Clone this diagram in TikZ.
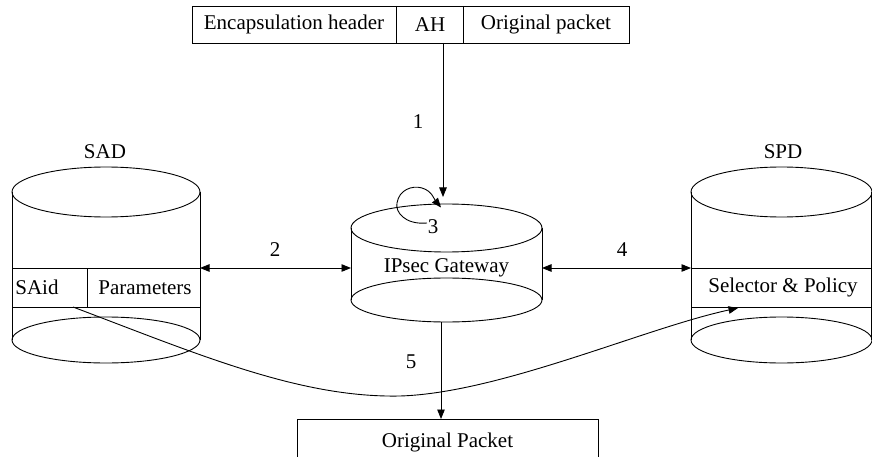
\documentclass[tikz,border=0pt]{standalone}
\usepackage{fontspec}
\setmainfont{Liberation Serif}
\usetikzlibrary{arrows.meta}
\begin{document}
\begin{tikzpicture}[x=1pt,y=-1pt,
  every node/.style={font=\fontsize{21}{24}\selectfont, inner sep=0pt},
  ln/.style={line width=0.9pt},
  tip/.style={-{Triangle[length=9.5pt,width=7.5pt]}},
  dtip/.style={{Triangle[length=9.5pt,width=7.5pt]}-{Triangle[length=9.5pt,width=7.5pt]}}]
\useasboundingbox (0,0) rectangle (872,457);
% ---- top packet box
\draw[ln] (192,6) rectangle (629,43);
\draw[ln] (396,6) -- (396,43);
\draw[ln] (463,6) -- (463,43);
\node (enc) at (294,24.5) {Encapsulation header};
\node (ah) at (430,24.5) {AH};
\node (orig) at (546,24.5) {Original packet};
\coordinate (topout) at (443,43);
% ---- SAD cylinder
\draw[ln] (106,192) ellipse [x radius=94, y radius=25];
\draw[ln] (106,340) ellipse [x radius=94, y radius=23];
\draw[ln] (12,192) -- (12,340);
\draw[ln] (200,192) -- (200,340);
\draw[ln] (12,268) -- (200,268);
\draw[ln] (12,307) -- (200,307);
\draw[ln] (87,268) -- (87,307);
\node (sad) at (105,152) {SAD};
\node (said) at (37,287.5) {SAid};
\node (param) at (145,287.5) {Parameters};
\coordinate (sadR) at (200,268);
\coordinate (saidB) at (73,307);
% ---- Gateway cylinder
\draw[ln] (446.5,228) ellipse [x radius=95.5, y radius=24];
\draw[ln] (446.5,300) ellipse [x radius=95.5, y radius=22];
\draw[ln] (351,228) -- (351,300);
\draw[ln] (542,228) -- (542,300);
\node (gw) at (446.5,268) {IPsec Gateway};
\coordinate (gwL) at (351,268);
\coordinate (gwR) at (542,268);
\coordinate (gwT) at (443,197);
\coordinate (gwB) at (441,322);
% ---- SPD cylinder
\draw[ln] (781.5,192) ellipse [x radius=90.5, y radius=25];
\draw[ln] (781.5,340) ellipse [x radius=90.5, y radius=23];
\draw[ln] (691,192) -- (691,340);
\draw[ln] (871.6,192) -- (871.6,340);
\draw[ln] (691,268) -- (872,268);
\draw[ln] (691,307) -- (872,307);
\node (spd) at (783,152) {SPD};
\node (sel) at (783,287.5) {Selector \& Policy};
\coordinate (spdL) at (691,268);
\coordinate (selB) at (738,308);
% ---- bottom box
\draw[ln] (297,460) -- (297,419) -- (598,419) -- (598,460);
\node (opk) at (447.5,442) {Original Packet};
\coordinate (opkT) at (441,419);
% ---- connectors
\draw[ln,tip] (topout) -- (gwT);
\draw[ln,dtip] (sadR) -- (gwL);
\draw[ln,dtip] (gwR) -- (spdL);
\draw[ln,tip] (gwB) -- (opkT);
\coordinate (loopS) at (427,223);
\coordinate (loopE) at (441,207.5);
\draw[ln,tip] (loopS) .. controls (405,225) and (395,212) .. (397,203)
  .. controls (399,190) and (412,185) .. (422,188)
  .. controls (432,191) and (434,199) .. (loopE);
\draw[ln,tip] (saidB) .. controls (200,355) and (300,398) .. (400,396)
  .. controls (500,393) and (645,328) .. (selB);
% ---- labels
\node (l1) at (418,122) {1};
\node (l2) at (275,250) {2};
\node (l3) at (433,227) {3};
\node (l4) at (622,250) {4};
\node (l5) at (411,362) {5};
\end{tikzpicture}
\end{document}
